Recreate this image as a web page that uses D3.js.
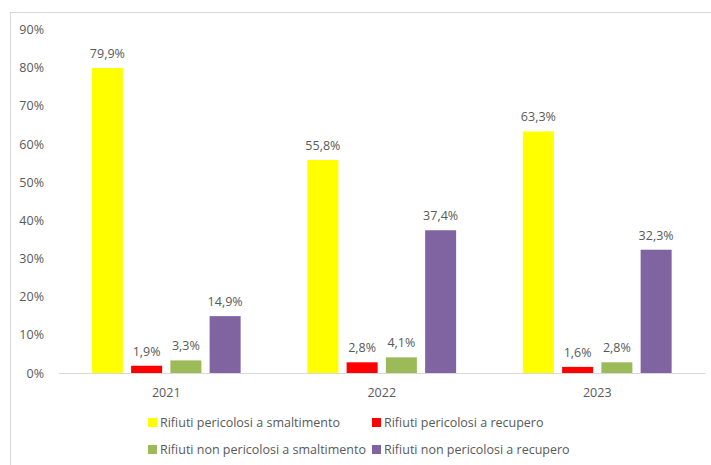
<!DOCTYPE html>
<html>
<head>
<meta charset="utf-8">
<script src="https://cdn.jsdelivr.net/npm/d3@7"></script>
<style>
  html, body { margin: 0; padding: 0; background: #fff; }
  svg { display: block; }
  text { font-family: "Open Sans", sans-serif; fill: #595959; }
</style>
</head>
<body>
<svg id="chart" width="711" height="465"></svg>
<script>
// Waste shares by year and type (percent)
const years = ["2021", "2022", "2023"];
const seriesNames = [
  "Rifiuti pericolosi a smaltimento",
  "Rifiuti pericolosi a recupero",
  "Rifiuti non pericolosi a smaltimento",
  "Rifiuti non pericolosi a recupero"
];
const seriesColors = ["#ffff00", "#ff0000", "#9bbb59", "#8064a2"];
const pericolosiSmaltimento = [79.9, 55.8, 63.3];
const pericolosiRecupero = [1.9, 2.8, 1.6];
const nonPericolosiSmaltimento = [3.3, 4.1, 2.8];
const nonPericolosiRecupero = [14.9, 37.4, 32.3];
const yTicks = [0, 10, 20, 30, 40, 50, 60, 70, 80, 90];

const seriesValues = [pericolosiSmaltimento, pericolosiRecupero, nonPericolosiSmaltimento, nonPericolosiRecupero];

const svg = d3.select("#chart");
const fontSize = "12.5px";

// outer frame
svg.append("rect")
  .attr("x", 10.5).attr("y", 12.5)
  .attr("width", 720).attr("height", 470)
  .attr("fill", "none").attr("stroke", "#d9d9d9");

const plotLeft = 58.5, plotRight = 705, plotTop = 29.5, plotBottom = 373;

const x = d3.scaleBand().domain(years).range([plotLeft, plotRight]);
const xInner = d3.scaleBand().domain(d3.range(4)).range([0, x.bandwidth()])
  .paddingInner(0.21).paddingOuter(0.85);
const y = d3.scaleLinear().domain([0, 90]).range([plotBottom, plotTop]);

// y axis labels
const yAxis = d3.axisLeft(y).tickValues(yTicks).tickSize(0).tickPadding(0)
  .tickFormat(d => d + "%");
const yg = svg.append("g").attr("transform", `translate(44,0)`).call(yAxis);
yg.select(".domain").remove();
yg.selectAll("text").style("font-size", fontSize).attr("fill", "#595959");

// x axis
const xAxis = d3.axisBottom(x).tickSize(0).tickPadding(15);
const xg = svg.append("g").attr("transform", `translate(0,${plotBottom})`).call(xAxis);
xg.select(".domain").attr("stroke", "#d9d9d9");
xg.selectAll("text").style("font-size", fontSize).attr("fill", "#595959");

// bars and labels
const groups = svg.append("g").selectAll("g").data(years).join("g")
  .attr("transform", d => `translate(${x(d)},0)`);

groups.each(function (yr, yi) {
  const g = d3.select(this);
  seriesValues.forEach((vals, si) => {
    const v = vals[yi];
    g.append("rect")
      .attr("x", xInner(si))
      .attr("y", y(v))
      .attr("width", xInner.bandwidth())
      .attr("height", y(0) - y(v))
      .attr("fill", seriesColors[si]);
    g.append("text")
      .attr("x", xInner(si) + xInner.bandwidth() / 2)
      .attr("y", y(v) - 10)
      .attr("text-anchor", "middle")
      .style("font-size", fontSize)
      .text(d3.format(".1f")(v).replace(".", ",") + "%");
  });
});

// legend
const legendPos = [[148, 423], [372, 423], [148, 450], [372, 450]];
const legend = svg.append("g");
seriesNames.forEach((name, i) => {
  const [lx, ly] = legendPos[i];
  legend.append("rect")
    .attr("x", lx).attr("y", ly - 5)
    .attr("width", 9).attr("height", 9)
    .attr("fill", seriesColors[i]);
  legend.append("text")
    .attr("x", lx + 12).attr("y", ly)
    .attr("dy", "0.35em")
    .style("font-size", fontSize)
    .text(name);
});
</script>
</body>
</html>
